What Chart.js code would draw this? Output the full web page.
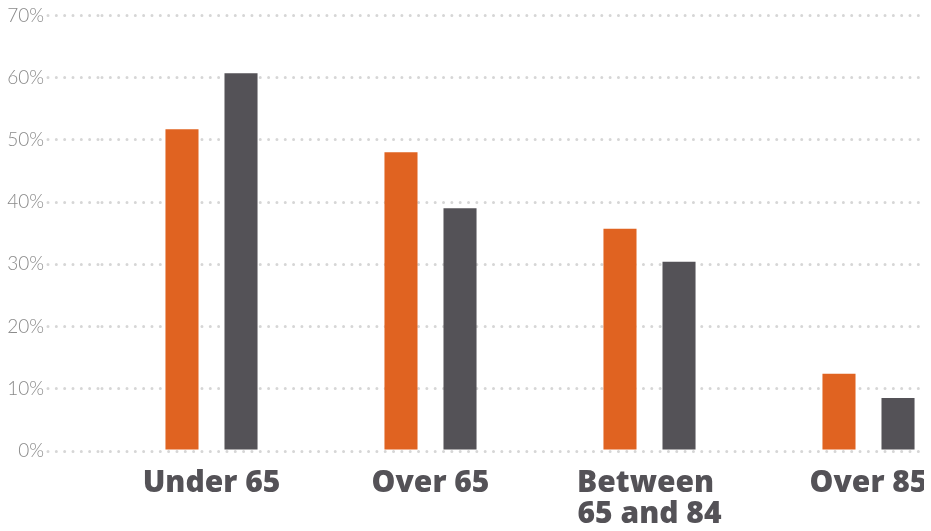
<!DOCTYPE html>
<html>
<head>
<meta charset="utf-8">
<script src="https://cdn.jsdelivr.net/npm/chart.js@4"></script>
<style>
  html, body { margin: 0; padding: 0; background: #fff; overflow: hidden; }
  #wrap { width: 978px; height: 531px; position: relative; }
</style>
</head>
<body>
<div id="wrap"><canvas id="grafico"></canvas></div>
<script>
// --- Dados ---
const categorias = ['Under 65', 'Over 65', ['Between ', '65 and 84'], 'Over 85'];
const serieLaranja = [51.7, 48.0, 35.7, 12.4];
const serieCinza = [60.7, 39.0, 30.4, 8.5];
const ticksY = [0, 10, 20, 30, 40, 50, 60, 70];

const laranja = '#E06321';
const cinza = '#545257';
const pontilhado = '#d6d6d6';

// deixa as linhas pontilhadas redondas e corta a grade antes da borda
const estiloGrade = {
  id: 'estiloGrade',
  beforeDraw(chart) {
    const ctx = chart.ctx;
    ctx.save();
    ctx.beginPath();
    ctx.rect(0, 0, 924, chart.height);
    ctx.clip();
    ctx.lineCap = 'round';
  },
  afterDraw(chart) {
    chart.ctx.restore();
  }
};

const ctx = document.getElementById('grafico').getContext('2d');
new Chart(ctx, {
  type: 'bar',
  data: {
    labels: categorias,
    datasets: [
      { label: 'Series 1', data: serieLaranja, backgroundColor: laranja },
      { label: 'Series 2', data: serieCinza, backgroundColor: cinza }
    ]
  },
  options: {
    responsive: true,
    maintainAspectRatio: false,
    animation: false,
    layout: { padding: { top: 15, left: 0, right: 0, bottom: 0 } },
    datasets: { bar: { categoryPercentage: 0.539, barPercentage: 0.56 } },
    plugins: { legend: { display: false }, tooltip: { enabled: false } },
    scales: {
      x: {
        grid: { display: false },
        border: { display: false },
        ticks: {
          color: cinza,
          padding: 9,
          maxRotation: 0,
          autoSkip: false,
          font: { family: '"Open Sans"', weight: '800', size: 30, lineHeight: 1.03 }
        },
        afterFit: s => { s.height = 80; }
      },
      y: {
        min: 0,
        max: 70,
        afterBuildTicks: s => { s.ticks = ticksY.map(v => ({ value: v })); },
        grid: {
          color: pontilhado,
          lineWidth: 3,
          drawTicks: true,
          tickLength: 54,
          tickColor: pontilhado,
          tickWidth: 3,
          tickBorderDash: [0, 8.33]
        },
        border: { display: false, dash: [0, 8.33] },
        ticks: {
          color: '#8a8a8a',
          padding: 4,
          font: { family: 'Lato', weight: '300', size: 19 },
          callback: v => v + '%'
        },
        afterFit: s => { s.width = 102; }
      }
    }
  },
  plugins: [estiloGrade]
});
</script>
</body>
</html>
